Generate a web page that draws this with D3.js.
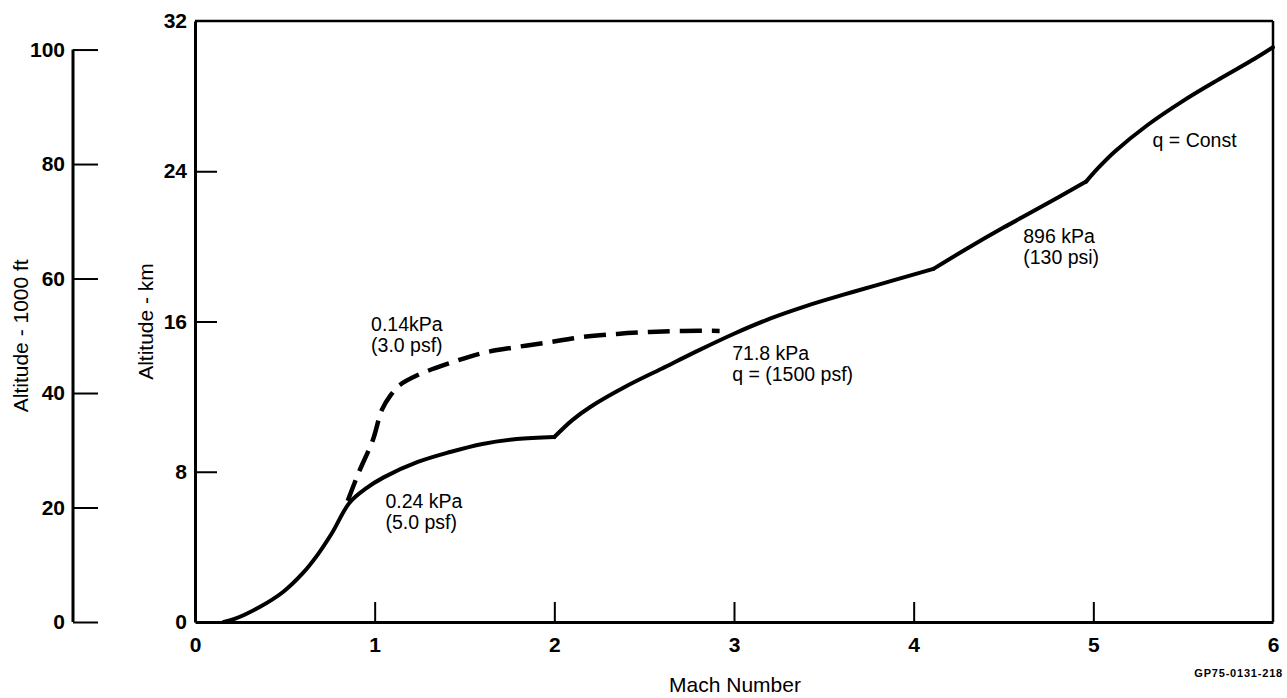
<!DOCTYPE html>
<html>
<head>
<meta charset="utf-8">
<script src="https://cdn.jsdelivr.net/npm/d3@7"></script>
<style>
  body { margin: 0; background: #fff; }
  svg text { font-family: "Liberation Sans", Arial, Helvetica, sans-serif; fill: #000; }
</style>
</head>
<body>
<svg id="chart" width="1287" height="698"></svg>
<script>
// axis ticks
var machTicks = [0, 1, 2, 3, 4, 5, 6];
var kmTicks = [0, 8, 16, 24, 32];
var ftTicks = [0, 20, 40, 60, 80, 100];

// q = const trajectory (solid), kinks where the curve breaks
var solidMach = [0.16, 0.22, 0.36, 0.49, 0.60, 0.68, 0.76, 0.86, 0.95, 1.05, 1.24, 1.42, 1.60, 1.79, 2.00,
                 2.10, 2.20, 2.40, 2.60, 2.80, 3.00, 3.20, 3.40, 3.60, 3.80, 4.11,
                 4.30, 4.50, 4.70, 4.96,
                 5.03, 5.12, 5.30, 5.50, 5.70, 5.90, 6.00];
var solidKm = [0, 0.16, 0.80, 1.60, 2.60, 3.55, 4.70, 6.35, 7.10, 7.70, 8.52, 9.05, 9.48, 9.74, 9.85,
               10.75, 11.45, 12.55, 13.50, 14.45, 15.35, 16.15, 16.82, 17.40, 17.95, 18.80,
               19.90, 21.00, 22.05, 23.45,
               24.20, 25.05, 26.45, 27.75, 28.90, 30.00, 30.60];
var kinkMach = [2.00, 4.11, 4.96];

// 0.14 kPa branch (dashed)
var dashedMach = [0.85, 0.91, 0.99, 1.04, 1.09, 1.14, 1.24, 1.42, 1.60, 1.79, 1.98, 2.16, 2.35, 2.53, 2.72, 2.92];
var dashedKm = [6.45, 7.93, 9.69, 11.29, 12.09, 12.62, 13.15, 13.79, 14.32, 14.64, 14.91, 15.18, 15.34, 15.44, 15.50, 15.50];

// annotations: mach, km of first line baseline
var noteLines = [
  ["0.14kPa", "(3.0 psf)"],
  ["0.24 kPa", "(5.0 psf)"],
  ["71.8 kPa", "q = (1500 psf)"],
  ["896 kPa", "(130 psi)"],
  ["q = Const"]
];
var noteMach = [0.98, 1.06, 2.99, 4.61, 5.33];
var noteKm = [15.50, 6.07, 13.95, 20.18, 25.30];

var svg = d3.select("#chart");

var x = d3.scaleLinear().domain([0, 6]).range([195, 1273]);
var y = d3.scaleLinear().domain([0, 32]).range([622, 21]);
var yFt = d3.scaleLinear().domain([0, 32 / 0.3048]).range([622, 21]);

// frame top and right
svg.append("line")
    .attr("x1", x(0)).attr("x2", x(6))
    .attr("y1", y(32)).attr("y2", y(32))
    .attr("stroke", "#000").attr("stroke-width", 2.5);
svg.append("line")
    .attr("x1", x(6)).attr("x2", x(6))
    .attr("y1", y(32)).attr("y2", y(0))
    .attr("stroke", "#000").attr("stroke-width", 2.5);

// km axis
var kmAxis = svg.append("g")
    .attr("transform", "translate(" + x(0) + ",0)")
    .call(d3.axisLeft(y).tickValues(kmTicks).tickSizeInner(-22).tickSizeOuter(0).tickPadding(8));

// 1000 ft axis
var ftAxis = svg.append("g")
    .attr("transform", "translate(73,0)")
    .call(d3.axisLeft(yFt).tickValues(ftTicks).tickSizeInner(-25).tickSizeOuter(0).tickPadding(8));
ftAxis.select(".domain").attr("d", "M0," + yFt(100) + "V" + yFt(0));

// mach axis
var machAxis = svg.append("g")
    .attr("transform", "translate(0," + y(0) + ")")
    .call(d3.axisBottom(x).tickValues(machTicks).tickSizeInner(-20).tickSizeOuter(0).tickPadding(15).tickFormat(d3.format("d")));

[kmAxis, ftAxis, machAxis].forEach(function(g) {
    g.select(".domain").attr("stroke", "#000").attr("stroke-width", 3);
    g.selectAll(".tick line").attr("stroke", "#000").attr("stroke-width", 2);
    g.selectAll(".tick text")
        .style("font-size", "21px")
        .style("font-weight", "bold")
        .attr("fill", "#000");
});
machAxis.selectAll(".tick")
    .filter(function(d) { return d === 0 || d === 6; })
    .select("line").remove();
kmAxis.selectAll(".tick")
    .filter(function(d) { return d === 0 || d === 32; })
    .select("line").remove();

// axis titles
svg.append("text")
    .attr("transform", "translate(28," + (yFt(0) + yFt(100)) / 2 + ") rotate(-90)")
    .attr("text-anchor", "middle")
    .style("font-size", "21px")
    .text("Altitude - 1000 ft");
svg.append("text")
    .attr("transform", "translate(153," + (y(0) + y(32)) / 2 + ") rotate(-90)")
    .attr("text-anchor", "middle")
    .style("font-size", "21px")
    .text("Altitude - km");
svg.append("text")
    .attr("x", 735).attr("y", 692)
    .attr("text-anchor", "middle")
    .style("font-size", "21px")
    .text("Mach Number");
svg.append("text")
    .attr("x", 1283).attr("y", 677)
    .attr("text-anchor", "end")
    .style("font-size", "11px")
    .style("font-weight", "bold")
    .style("letter-spacing", "0.8px")
    .text("GP75-0131-218");

// curves
var line = d3.line()
    .x(function(d) { return x(d[0]); })
    .y(function(d) { return y(d[1]); })
    .curve(d3.curveCatmullRom.alpha(0.5));

var solidPts = solidMach.map(function(m, i) { return [m, solidKm[i]]; });
var cuts = [solidMach[0]].concat(kinkMach).concat([solidMach[solidMach.length - 1]]);
var pieces = [];
for (var k = 0; k < cuts.length - 1; k++) {
    pieces.push(solidPts.filter(function(p) { return p[0] >= cuts[k] && p[0] <= cuts[k + 1]; }));
}

svg.selectAll("path.solid")
    .data(pieces)
    .enter()
    .append("path")
    .attr("class", "solid")
    .attr("d", line)
    .attr("fill", "none")
    .attr("stroke", "#000")
    .attr("stroke-width", 4)
    .attr("stroke-linecap", "round")
    .attr("stroke-linejoin", "round");

var dashedPts = dashedMach.map(function(m, i) { return [m, dashedKm[i]]; });
svg.append("path")
    .datum(dashedPts)
    .attr("d", line)
    .attr("fill", "none")
    .attr("stroke", "#000")
    .attr("stroke-width", 4.5)
    .attr("stroke-dasharray", "22,10");

// annotations
var notes = svg.selectAll("text.note")
    .data(noteLines)
    .enter()
    .append("text")
    .attr("class", "note")
    .attr("x", function(d, i) { return x(noteMach[i]); })
    .attr("y", function(d, i) { return y(noteKm[i]); })
    .style("font-size", "19.5px");
notes.selectAll("tspan")
    .data(function(d) { return d; })
    .enter()
    .append("tspan")
    .attr("x", function() { return d3.select(this.parentNode).attr("x"); })
    .attr("dy", function(d, i) { return i === 0 ? 0 : 21; })
    .text(function(d) { return d; });
</script>
</body>
</html>
